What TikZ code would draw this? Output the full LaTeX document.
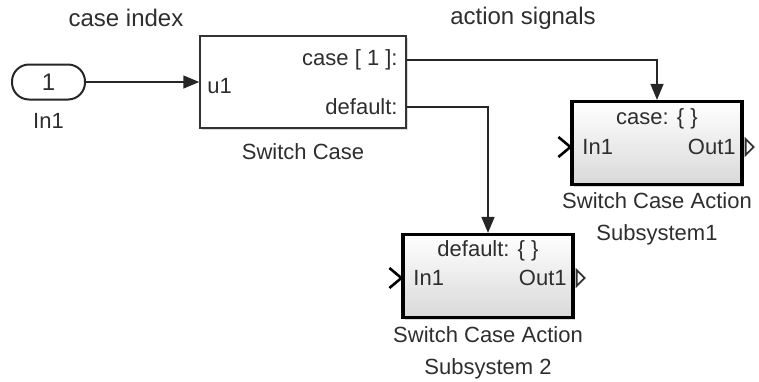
\documentclass[tikz,border=0pt]{standalone}
\usepackage{fontspec}
\setmainfont{Liberation Sans}
\usetikzlibrary{arrows.meta,shadows}
\definecolor{txt}{gray}{0.18}
\tikzset{
  lbl/.style={font=\fontsize{11}{13}\selectfont, text=txt, inner sep=0pt},
  toplbl/.style={lbl, font=\fontsize{12}{14}\selectfont},
  conn/.style={line width=0.75pt, draw=black!85, -{Triangle[length=8pt,width=6.5pt]}},
  swblock/.style={draw=black!80, line width=0.75pt, fill=white, minimum width=103pt, minimum height=46pt, inner sep=0pt,
     drop shadow={shadow xshift=1pt, shadow yshift=-1pt, opacity=0.3}},
  subblock/.style={draw=black, line width=1.6pt, top color=white, bottom color=black!15, minimum width=85pt, minimum height=41.5pt, inner sep=0pt,
     drop shadow={shadow xshift=1pt, shadow yshift=-1pt, opacity=0.3}},
  portin/.style={draw=black, line width=1.3pt},
  portout/.style={draw=black!80, line width=0.9pt, fill=white},
}
\begin{document}
\begin{tikzpicture}[x=0.5pt,y=-0.5pt]
\useasboundingbox (0,0) rectangle (759,381);
% top labels
\node[toplbl] (ci) at (126,18) {case index};
\node[toplbl] (as) at (523,18) {action signals};
% In1
\node[draw=black!85, line width=1pt, rounded corners=8.5pt, minimum width=36.5pt, minimum height=17.5pt, inner sep=0pt, lbl, font=\fontsize{12}{14}\selectfont] (in1) at (48.5,82) {1};
\node[lbl] (in1l) at (48.5,121) {In1};
% Switch case block
\node[swblock] (sw) at (303,82) {};
\node[lbl, anchor=west] (u1) at (207,86) {u1};
\node[lbl, anchor=east] (c1) at (398,60) {case [ 1 ]:};
\node[lbl, anchor=east] (d1) at (398,107) {default:};
\node[lbl] (swl) at (303,152) {Switch Case};
% Subsystem 1
\node[subblock] (s1) at (657,143) {};
\node[lbl] (s1c) at (657,119) {case: \{ \}};
\node[lbl, anchor=west] (s1i) at (582,147) {In1};
\node[lbl, anchor=east] (s1o) at (736,147) {Out1};
\node[lbl, align=center] (s1l) at (657,219) {Switch Case Action\\[3pt]Subsystem1};
% Subsystem 2
\node[subblock] (s2) at (488,276) {};
\node[lbl] (s2c) at (488,251) {default: \{ \}};
\node[lbl, anchor=west] (s2i) at (413,278) {In1};
\node[lbl, anchor=east] (s2o) at (567,278) {Out1};
\node[lbl, align=center] (s2l) at (488,353) {Switch Case Action\\[3pt]Subsystem 2};
% port glyphs
\draw[portin] ([xshift=-6pt,yshift=5pt]s1.west |- s1i) -- (s1.west |- s1i) -- ([xshift=-6pt,yshift=-5pt]s1.west |- s1i);
\draw[portout] ([xshift=1pt,yshift=4pt]s1.east |- s1o) -- ([xshift=5pt]s1.east |- s1o) -- ([xshift=1pt,yshift=-4pt]s1.east |- s1o) -- cycle;
\draw[portin] ([xshift=-6pt,yshift=5pt]s2.west |- s2i) -- (s2.west |- s2i) -- ([xshift=-6pt,yshift=-5pt]s2.west |- s2i);
\draw[portout] ([xshift=1pt,yshift=4pt]s2.east |- s2o) -- ([xshift=5pt]s2.east |- s2o) -- ([xshift=1pt,yshift=-4pt]s2.east |- s2o) -- cycle;
% connectors
\draw[conn] (in1.east) -- (sw.west);
\draw[conn] (sw.east |- c1) -| (s1.north);
\draw[conn] (sw.east |- d1) -| (s2.north);
\end{tikzpicture}
\end{document}
